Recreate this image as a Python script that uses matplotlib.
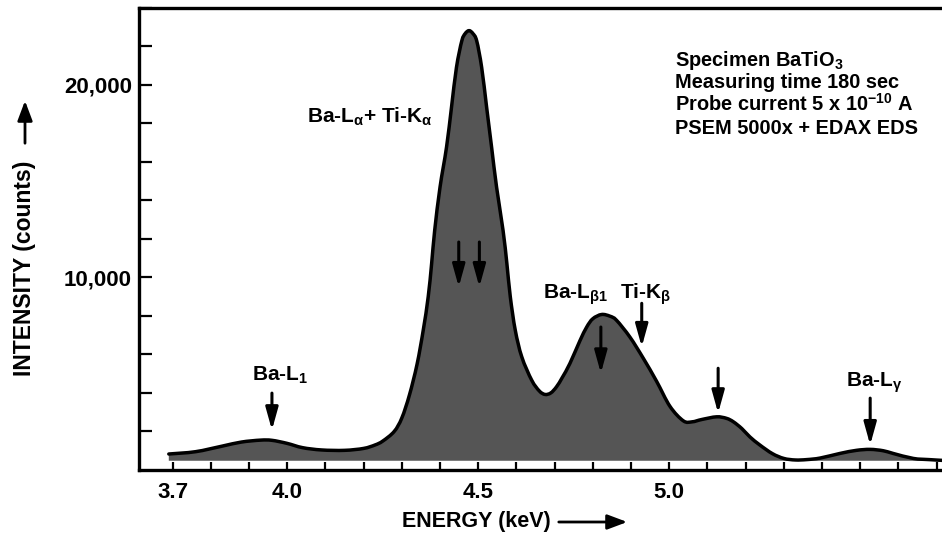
import matplotlib
matplotlib.use("Agg")
import matplotlib.pyplot as plt
from matplotlib.patches import FancyArrowPatch, PathPatch
from matplotlib.path import Path

plt.rcParams['font.family'] = ['Liberation Sans', 'DejaVu Sans']
plt.rcParams['font.weight'] = 'bold'
plt.rcParams['mathtext.fontset'] = 'custom'
plt.rcParams['mathtext.rm'] = 'Liberation Sans'
plt.rcParams['mathtext.bf'] = 'Liberation Sans:bold'
plt.rcParams['mathtext.default'] = 'regular'

# ---- data ----
energy_kev = [3.69, 3.76, 3.83, 3.88, 3.93, 3.96, 4.00, 4.04, 4.09, 4.15,
              4.20, 4.23, 4.25, 4.28, 4.30, 4.32, 4.34, 4.356, 4.369,
              4.378, 4.386, 4.400, 4.417, 4.430, 4.443, 4.457, 4.466, 4.476, 4.486,
              4.496, 4.509, 4.522, 4.535, 4.548, 4.565, 4.575, 4.584, 4.597, 4.614,
              4.640, 4.660, 4.675, 4.690, 4.705, 4.72, 4.740, 4.766, 4.784, 4.80,
              4.823, 4.845, 4.862, 4.897, 4.932, 4.967, 5.002, 5.037, 5.06, 5.085,
              5.124, 5.15, 5.168, 5.19, 5.211, 5.237, 5.27, 5.30, 5.33, 5.36,
              5.395, 5.447, 5.49, 5.526, 5.56, 5.586, 5.639, 5.68, 5.714]
counts = [830, 950, 1240, 1450, 1550, 1540, 1380, 1160, 1040, 1020,
          1120, 1300, 1500, 2000, 2700, 3900, 5500, 7250, 8980,
          10710, 12430, 14680, 16750, 18820, 20890, 22270, 22650, 22800, 22650,
          22270, 20890, 18820, 16750, 14680, 12430, 10710, 8980, 7250, 5870,
          4660, 4100, 3920, 4000, 4320, 4800, 5530, 6700, 7420, 7850,
          8070, 7980, 7770, 6900, 5800, 4600, 3300, 2550, 2500, 2620,
          2760, 2680, 2500, 2150, 1720, 1300, 850, 600, 520, 540,
          620, 860, 1020, 1070, 1000, 860, 600, 540, 500]
fill_base = 480

x_tick_values = [3.7 + 0.1 * i for i in range(21)]
x_tick_labels = {3.7: "3.7", 4.0: "4.0", 4.5: "4.5", 5.0: "5.0"}
y_tick_values = list(range(2000, 24001, 2000))
y_tick_labels = {10000: "10,000", 20000: "20,000"}

peak_labels = ["Ba-L$_{\\mathrm{1}}$", "Ba-L$_{\\alpha}$+ Ti-K$_{\\alpha}$",
               "Ba-L$_{\\beta 1}$", "Ti-K$_{\\beta}$", "Ba-L$_{\\gamma}$"]
peak_label_pos = [(3.909, 4630), (4.052, 18040), (4.669, 8910), (4.871, 8910), (5.464, 4310)]
arrow_energy = [3.96, 4.449, 4.503, 4.821, 4.928, 5.128, 5.526]
arrow_top = [3990, 11830, 11830, 7420, 8650, 5280, 3730]
arrow_bottom = [2070, 9500, 9500, 5020, 6390, 2950, 1300]

info_lines = ["Specimen BaTiO$_3$", "Measuring time 180 sec",
              "Probe current 5 x 10$^{-10}$ A", "PSEM 5000x + EDAX EDS"]


def smooth_path_vertices(xs, ys):
    """Catmull-Rom spline through the read points, expressed as cubic Bezier segments."""
    n = len(xs)
    verts = [(xs[0], ys[0])]
    codes = [Path.MOVETO]
    for i in range(n - 1):
        x0, y0 = (xs[i - 1], ys[i - 1]) if i > 0 else (xs[i], ys[i])
        x1, y1 = xs[i], ys[i]
        x2, y2 = xs[i + 1], ys[i + 1]
        x3, y3 = (xs[i + 2], ys[i + 2]) if i + 2 < n else (x2, y2)
        c1 = (x1 + (x2 - x0) / 6, y1 + (y2 - y0) / 6)
        c2 = (x2 - (x3 - x1) / 6, y2 - (y3 - y1) / 6)
        verts += [c1, c2, (x2, y2)]
        codes += [Path.CURVE4] * 3
    return verts, codes


W, H = 942, 534
fig = plt.figure(figsize=(W / 100, H / 100), dpi=100)
ax = fig.add_axes([139 / W, (H - 470) / H, 1 - 139 / W, (470 - 7.5) / H])
ax.set_xlim(3.612, 5.714)
ax.set_ylim(0, 23960)

verts, codes = smooth_path_vertices(energy_kev, counts)
fill_verts = verts + [(energy_kev[-1], fill_base), (energy_kev[0], fill_base), verts[0]]
fill_codes = codes + [Path.LINETO, Path.LINETO, Path.CLOSEPOLY]
ax.add_patch(PathPatch(Path(fill_verts, fill_codes), facecolor='#555555', lw=0, zorder=2))
ax.add_patch(PathPatch(Path(verts, codes), facecolor='none', edgecolor='black',
                       lw=2.5, capstyle='round', joinstyle='round', zorder=3))

for s in ['left', 'bottom', 'top']:
    ax.spines[s].set_linewidth(2.4)
ax.spines['right'].set_visible(False)

ax.set_xticks(x_tick_values)
ax.set_xticklabels([x_tick_labels.get(round(v, 1), "") for v in x_tick_values])
ax.set_yticks(y_tick_values)
ax.set_yticklabels([y_tick_labels.get(v, "") for v in y_tick_values])
ax.tick_params(axis='x', direction='in', length=5.5, width=1.6, pad=9, labelsize=16)
ax.tick_params(axis='y', direction='in', length=9, width=1.6, pad=5, labelsize=16)
ax.tick_params(top=False, right=False)

for txt, (ex, cy) in zip(peak_labels, peak_label_pos):
    ax.text(ex, cy, txt, fontsize=15, fontweight='bold', va='baseline', ha='left', zorder=5)

for ex, t, b in zip(arrow_energy, arrow_top, arrow_bottom):
    ax.annotate("", xy=(ex, b), xytext=(ex, t),
                arrowprops=dict(arrowstyle='-|>,head_length=0.9,head_width=0.25',
                                lw=2.2, color='black', shrinkA=0, shrinkB=0,
                                mutation_scale=15), zorder=6)

for i, line in enumerate(info_lines):
    fig.text(675 / W, 1 - (66 + 22.5 * i) / H, line, fontsize=14.4, fontweight='bold',
             ha='left', va='baseline')

fig.text(476 / W, 1 - 521 / H, "ENERGY (keV)", fontsize=15.5, fontweight='bold',
         ha='center', va='center')
fig.patches.append(FancyArrowPatch((556 / W, 1 - 522 / H), (630 / W, 1 - 522 / H),
                                   transform=fig.transFigure, arrowstyle='-|>,head_length=0.8,head_width=0.3',
                                   mutation_scale=15, lw=2, color='black'))
fig.text(25 / W, 1 - 268 / H, "INTENSITY (counts)", fontsize=16.5, fontweight='bold',
         ha='center', va='center', rotation=90)
fig.patches.append(FancyArrowPatch((25 / W, 1 - 146 / H), (25 / W, 1 - 98 / H),
                                   transform=fig.transFigure, arrowstyle='-|>,head_length=0.8,head_width=0.3',
                                   mutation_scale=15, lw=2, color='black'))

fig.savefig("out.png", dpi=100)
